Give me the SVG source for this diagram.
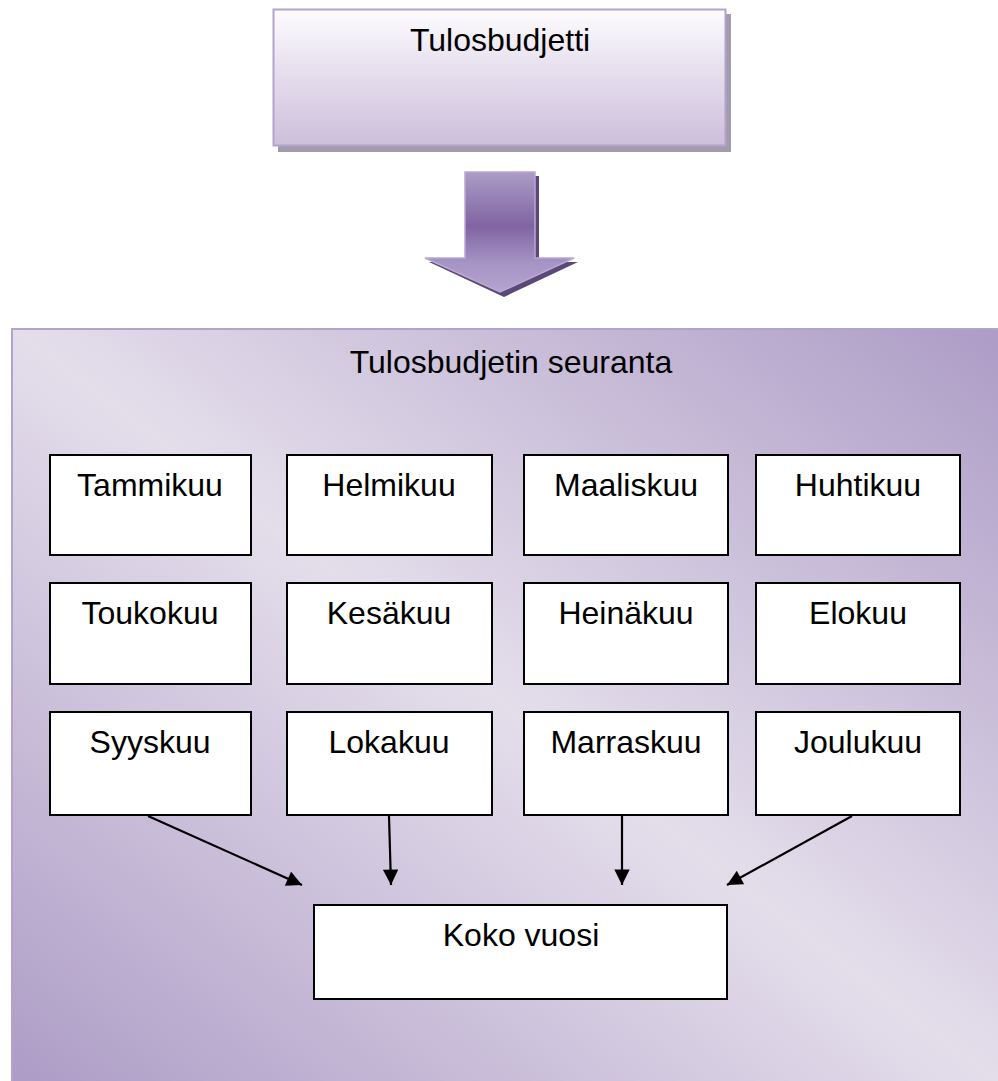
<svg xmlns="http://www.w3.org/2000/svg" width="998" height="1081" viewBox="0 0 998 1081">
<defs>
<linearGradient id="gTop" x1="0" y1="0" x2="0" y2="1">
<stop offset="0" stop-color="#fdfcfe"/>
<stop offset="0.45" stop-color="#e6dfee"/>
<stop offset="1" stop-color="#ccbfda"/>
</linearGradient>
<linearGradient id="gBig" gradientUnits="userSpaceOnUse" x1="140" y1="1180" x2="868" y2="228">
<stop offset="0" stop-color="#ad9cc6"/>
<stop offset="0.5" stop-color="#e4deeb"/>
<stop offset="1" stop-color="#ad9cc6"/>
</linearGradient>
<linearGradient id="gArrow" gradientUnits="userSpaceOnUse" x1="0" y1="172" x2="0" y2="292">
<stop offset="0" stop-color="#ab9cc6"/>
<stop offset="0.45" stop-color="#8064a2"/>
<stop offset="0.75" stop-color="#a593c4"/>
<stop offset="1" stop-color="#b4a4d0"/>
</linearGradient>
<marker id="ah" viewBox="0 0 10 10" refX="10" refY="5" markerWidth="7.5" markerHeight="7" orient="auto" markerUnits="strokeWidth">
<path d="M0,0 L10,5 L0,10 z" fill="#000"/>
</marker>
<style>
.t{font-family:"Liberation Sans",Arial,sans-serif;font-size:32px;fill:#000;text-anchor:middle}
.m{fill:#fff;stroke:#000;stroke-width:2}
.c{stroke:#000;stroke-width:2.2;fill:none;marker-end:url(#ah)}
</style>
</defs>

<g id="tulosbudjetti">
<rect x="278" y="14" width="453" height="138" fill="#a29bab"/>
<rect x="273.5" y="9.5" width="452" height="136" fill="url(#gTop)" stroke="#b3a3cc" stroke-width="2"/>
<text class="t" x="500" y="51">Tulosbudjetti</text>
</g>

<g id="big-arrow">
<path d="M469,176 L539,176 L539,262 L578,262 L504,297 L429,262 L469,262 Z" fill="#5a4878"/>
<path d="M465,172 L535,172 L535,258 L574,258 L500,292 L425,258 L465,258 Z" fill="url(#gArrow)" stroke="#b8a8d2" stroke-width="1.5"/>
</g>

<g id="seuranta">
<rect x="11" y="328" width="987" height="753" fill="url(#gBig)"/>
<path d="M12,1081 L12,329 L998,329" fill="none" stroke="#b3a2cc" stroke-width="2"/>
<text class="t" x="511" y="373">Tulosbudjetin seuranta</text>
</g>

<g id="tammikuu"><rect class="m" x="50" y="455" width="201" height="100"/><text class="t" x="150" y="496">Tammikuu</text></g>
<g id="helmikuu"><rect class="m" x="287" y="455" width="205" height="100"/><text class="t" x="389" y="496">Helmikuu</text></g>
<g id="maaliskuu"><rect class="m" x="524" y="455" width="204" height="100"/><text class="t" x="626" y="496">Maaliskuu</text></g>
<g id="huhtikuu"><rect class="m" x="756" y="455" width="204" height="100"/><text class="t" x="858" y="496">Huhtikuu</text></g>

<g id="toukokuu"><rect class="m" x="50" y="583" width="201" height="101"/><text class="t" x="150" y="624">Toukokuu</text></g>
<g id="kesakuu"><rect class="m" x="287" y="583" width="205" height="101"/><text class="t" x="389" y="624">Kesäkuu</text></g>
<g id="heinakuu"><rect class="m" x="524" y="583" width="204" height="101"/><text class="t" x="626" y="624">Heinäkuu</text></g>
<g id="elokuu"><rect class="m" x="756" y="583" width="204" height="101"/><text class="t" x="858" y="624">Elokuu</text></g>

<g id="syyskuu"><rect class="m" x="50" y="712" width="201" height="103"/><text class="t" x="150" y="753">Syyskuu</text></g>
<g id="lokakuu"><rect class="m" x="287" y="712" width="205" height="103"/><text class="t" x="389" y="753">Lokakuu</text></g>
<g id="marraskuu"><rect class="m" x="524" y="712" width="204" height="103"/><text class="t" x="626" y="753">Marraskuu</text></g>
<g id="joulukuu"><rect class="m" x="756" y="712" width="204" height="103"/><text class="t" x="858" y="753">Joulukuu</text></g>

<g id="koko-vuosi"><rect class="m" x="314" y="905" width="413" height="94"/><text class="t" x="521" y="946">Koko vuosi</text></g>

<g id="connectors">
<line class="c" x1="148" y1="816" x2="302" y2="885"/>
<line class="c" x1="389" y1="816" x2="391" y2="885"/>
<line class="c" x1="622" y1="816" x2="622" y2="885"/>
<line class="c" x1="852" y1="816" x2="727" y2="885"/>
</g>
</svg>
